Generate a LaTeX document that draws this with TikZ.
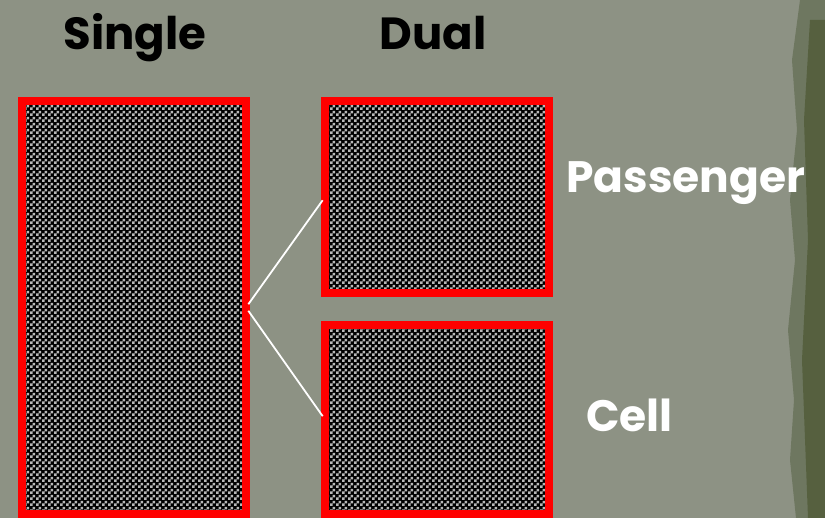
\documentclass[tikz,border=0pt]{standalone}
\usepackage{fontspec}
\setmainfont{Poppins}
\usetikzlibrary{patterns}
\definecolor{slate}{HTML}{8D9284}
\definecolor{moss}{HTML}{6E7760}
\definecolor{mossdark}{HTML}{56603F}
\definecolor{cred}{HTML}{FF0000}
\definecolor{dotgray}{HTML}{B8B8B8}

% fine checker used inside the boxes
\pgfdeclarepatternformonly{finechecker}{\pgfpointorigin}{\pgfqpoint{6pt}{6pt}}%
  {\pgfqpoint{6pt}{6pt}}{%
  \pgfpathrectangle{\pgfpointorigin}{\pgfqpoint{3pt}{3pt}}%
  \pgfpathrectangle{\pgfqpoint{3pt}{3pt}}{\pgfqpoint{3pt}{3pt}}%
  \pgfusepath{fill}}

\begin{document}
\begin{tikzpicture}[
  x=1pt, y=-1pt,
  memory/.style={draw=cred, line width=8pt, minimum width=224pt,
                 inner sep=0pt, outer sep=0pt,
                 pattern=finechecker, pattern color=dotgray,
                 preaction={fill=black}},
  title/.style={font=\fontsize{45}{48}\selectfont\bfseries, text=black,
                inner sep=0pt, anchor=base},
  tag/.style={font=\fontsize{44}{48}\selectfont\bfseries, text=white,
              inner sep=0pt, anchor=base west},
  split/.style={draw=white, line width=1.8pt},
]

% ---- Backdrop ---------------------------------------------------------------
\useasboundingbox (0,0) rectangle (825,518);
\fill[slate] (0,0) rectangle (825,518);
\fill[moss] (800,0) -- (792,60) -- (797,130) -- (790,200) -- (795,260)
  -- (788,330) -- (794,400) -- (790,460) -- (796,518) -- (825,518)
  -- (825,0) -- cycle;
\fill[mossdark] (810,20) -- (804,120) -- (808,240) -- (802,360)
  -- (808,518) -- (825,518) -- (825,20) -- cycle;

% ---- Boxes ------------------------------------------------------------------
\node[memory, minimum height=413pt] (single) at (134,307.5) {};
\node[memory, minimum height=192pt] (upper) at (437,197) {};
\node[memory, minimum height=189pt] (lower) at (437,419.5) {};

% ---- Labels -----------------------------------------------------------------
\node[title] (singlelbl) at (135,50) {Single};
\node[title] (duallbl) at (433,50) {Dual};
\node[tag] (passlbl) at (566,193) {Passenger};
\node[tag] (celllbl) at (586,432) {Cell};

% ---- Split lines ------------------------------------------------------------
\draw[split, shorten <=4pt, shorten >=4pt] (single.east) -- (upper.west);
\draw[split, shorten <=4pt, shorten >=4pt] (single.east) -- (lower.west);

\end{tikzpicture}
\end{document}
